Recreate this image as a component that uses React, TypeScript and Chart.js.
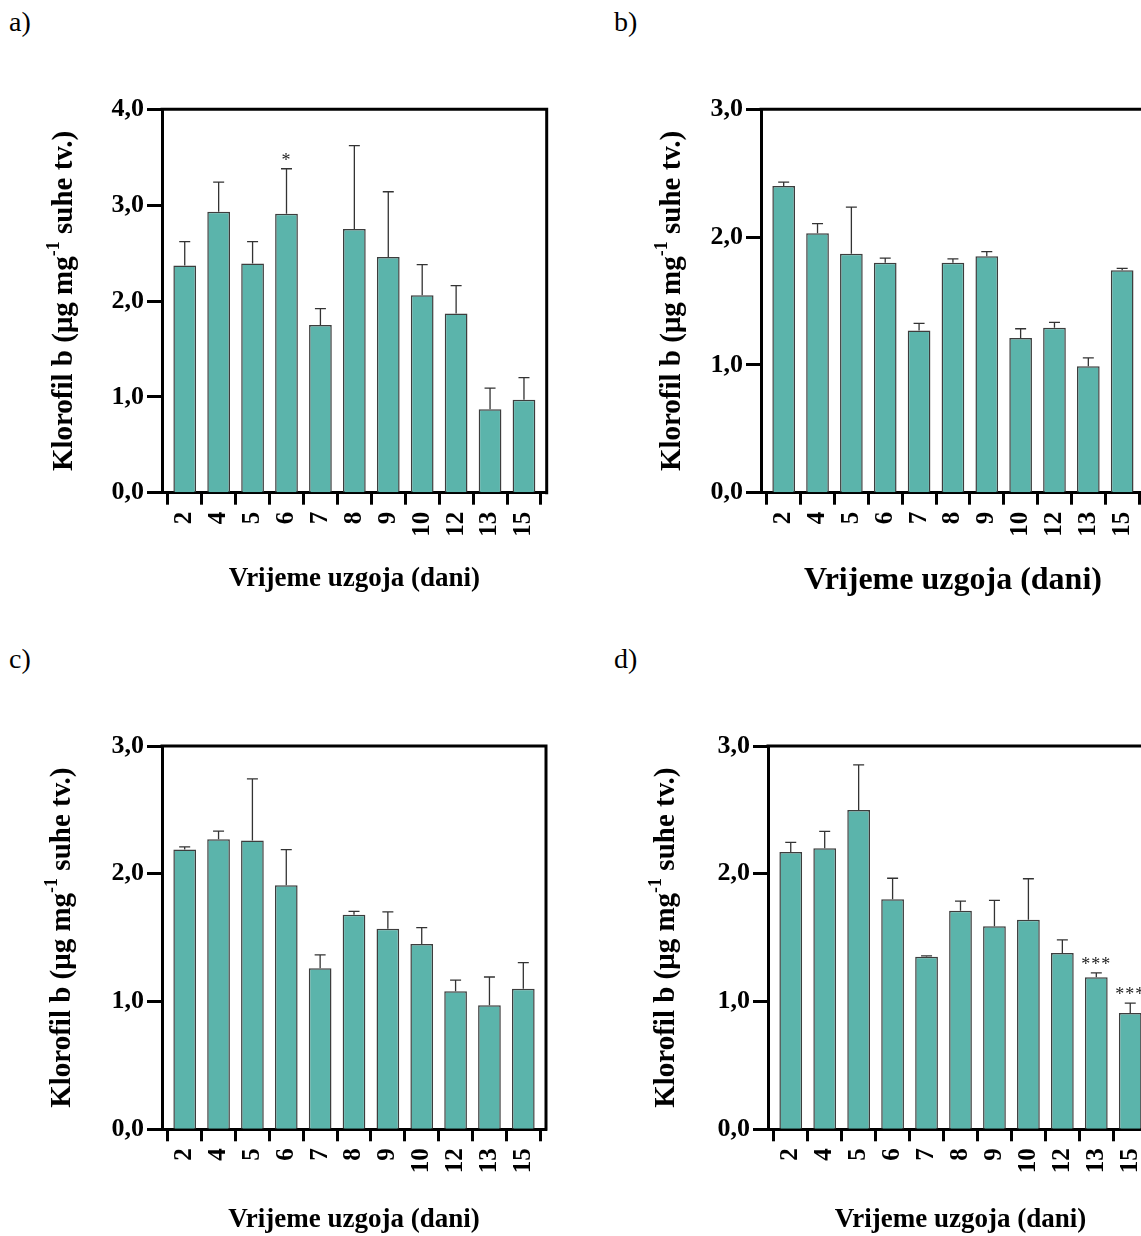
import React, { useEffect, useRef } from 'react';
import { Chart, registerables } from 'chart.js';

Chart.register(...registerables);

// ---------- data ----------
const days = ['2', '4', '5', '6', '7', '8', '9', '10', '12', '13', '15'];

const valuesA = [2.37, 2.93, 2.39, 2.91, 1.75, 2.75, 2.46, 2.06, 1.87, 0.87, 0.97];
const sdA = [0.25, 0.31, 0.23, 0.47, 0.17, 0.87, 0.68, 0.32, 0.29, 0.22, 0.23];
const starsA = ['', '', '', '*', '', '', '', '', '', '', ''];

const valuesB = [2.40, 2.03, 1.87, 1.80, 1.27, 1.80, 1.85, 1.21, 1.29, 0.99, 1.74];
const sdB = [0.03, 0.075, 0.365, 0.035, 0.055, 0.03, 0.036, 0.073, 0.042, 0.065, 0.016];
const starsB = ['', '', '', '', '', '', '', '', '', '', ''];

const valuesC = [2.19, 2.27, 2.26, 1.91, 1.26, 1.68, 1.57, 1.45, 1.08, 0.97, 1.10];
const sdC = [0.02, 0.063, 0.483, 0.279, 0.105, 0.026, 0.131, 0.128, 0.087, 0.222, 0.204];
const starsC = ['', '', '', '', '', '', '', '', '', '', ''];

const valuesD = [2.17, 2.20, 2.50, 1.80, 1.35, 1.71, 1.59, 1.64, 1.38, 1.19, 0.91];
const sdD = [0.076, 0.132, 0.352, 0.165, 0.008, 0.076, 0.201, 0.321, 0.102, 0.034, 0.078];
const starsD = ['', '', '', '', '', '', '', '', '', '***', '***'];

const yMaxA = 4;
const yMaxBCD = 3;

const xTitle = 'Vrijeme uzgoja (dani)';
const yTitleMain = 'Klorofil b (μg mg';
const yTitleSup = '-1';
const yTitleEnd = ' suhe tv.)';

// ---------- style / layout ----------
const FONT = '"Liberation Serif", "Times New Roman", serif';
const BAR_FILL = '#5BB4AB';
const BAR_BORDER = '#3d3d3d';

type Panel = {
  label: string;
  labelPos: { left: number; top: number };
  values: number[];
  sd: number[];
  stars: string[];
  yMax: number;
  canvas: { left: number; top: number; w: number; h: number };
  area: { left: number; top: number; right: number; bottom: number };
  xTitleY: number;
  xTitleSize: number;
  yTitleX: number;
};

const panels: Panel[] = [
  {
    label: 'a)', labelPos: { left: 9, top: 8 },
    values: valuesA, sd: sdA, stars: starsA, yMax: yMaxA,
    canvas: { left: 0, top: 80, w: 600, h: 530 },
    area: { left: 162, top: 109.3, right: 546.7, bottom: 492.7 },
    xTitleY: 579, xTitleSize: 27, yTitleX: 65,
  },
  {
    label: 'b)', labelPos: { left: 614, top: 8 },
    values: valuesB, sd: sdB, stars: starsB, yMax: yMaxBCD,
    canvas: { left: 600, top: 80, w: 560, h: 530 },
    area: { left: 761, top: 109.3, right: 1146, bottom: 492.7 },
    xTitleY: 581, xTitleSize: 32, yTitleX: 673,
  },
  {
    label: 'c)', labelPos: { left: 9, top: 645 },
    values: valuesC, sd: sdC, stars: starsC, yMax: yMaxBCD,
    canvas: { left: 0, top: 716, w: 600, h: 520 },
    area: { left: 162, top: 746, right: 546, bottom: 1129.3 },
    xTitleY: 1222, xTitleSize: 27, yTitleX: 63,
  },
  {
    label: 'd)', labelPos: { left: 614, top: 645 },
    values: valuesD, sd: sdD, stars: starsD, yMax: yMaxBCD,
    canvas: { left: 600, top: 716, w: 570, h: 520 },
    area: { left: 768, top: 746, right: 1153, bottom: 1129.3 },
    xTitleY: 1222, xTitleSize: 27, yTitleX: 667,
  },
];

function makeChart(canvas: HTMLCanvasElement, p: Panel) {
  const padTop = p.area.top - p.canvas.top;
  const padRight = p.canvas.left + p.canvas.w - p.area.right;
  const yW = p.area.left - p.canvas.left;
  const xH = p.canvas.top + p.canvas.h - p.area.bottom;
  const lh = p.xTitleSize * 1.2;
  const xTitlePadBottom = Math.max(0, p.canvas.top + p.canvas.h - p.xTitleY - lh / 2);

  const decor = {
    id: 'decor',
    afterDatasetsDraw(chart: any) {
      const { ctx, chartArea, scales } = chart;
      const xs = scales.x;
      const ys = scales.y;
      ctx.save();
      ctx.strokeStyle = '#333';
      ctx.lineWidth = 1.3;
      p.values.forEach((v, i) => {
        const px = xs.getPixelForValue(i);
        const base = ys.getPixelForValue(v);
        const top = ys.getPixelForValue(v + p.sd[i]);
        ctx.beginPath();
        ctx.moveTo(px, base);
        ctx.lineTo(px, top);
        ctx.moveTo(px - 5.5, top);
        ctx.lineTo(px + 5.5, top);
        ctx.stroke();
        if (p.stars[i]) {
          ctx.fillStyle = '#222';
          ctx.font = `18px ${FONT}`;
          ctx.letterSpacing = '1px';
          ctx.textAlign = 'center';
          ctx.textBaseline = 'alphabetic';
          ctx.fillText(p.stars[i], px, top - 3);
          ctx.letterSpacing = '0px';
        }
      });
      // frame top + right
      ctx.strokeStyle = '#000';
      ctx.lineWidth = 3;
      ctx.lineCap = 'square';
      ctx.beginPath();
      ctx.moveTo(chartArea.left, chartArea.top);
      ctx.lineTo(chartArea.right, chartArea.top);
      ctx.lineTo(chartArea.right, chartArea.bottom);
      ctx.stroke();
      ctx.restore();
    },
    afterDraw(chart: any) {
      const { ctx, chartArea } = chart;
      const F = 29;
      const cx = p.yTitleX - p.canvas.left;
      const cy = (chartArea.top + chartArea.bottom) / 2;
      const mainFont = `bold ${F}px ${FONT}`;
      const supFont = `bold ${Math.round(F * 0.62)}px ${FONT}`;
      const parts: [string, string, number][] = [
        [yTitleMain, mainFont, 0],
        [yTitleSup, supFont, -F * 0.38],
        [yTitleEnd, mainFont, 0],
      ];
      ctx.save();
      ctx.translate(cx, cy);
      ctx.rotate(-Math.PI / 2);
      ctx.fillStyle = '#000';
      ctx.textBaseline = 'middle';
      ctx.textAlign = 'left';
      let total = 0;
      const widths = parts.map(([t, f]) => {
        ctx.font = f;
        const w = ctx.measureText(t).width;
        total += w;
        return w;
      });
      let x = -total / 2;
      parts.forEach(([t, f, dy], i) => {
        ctx.font = f;
        ctx.fillText(t, x, dy);
        x += widths[i];
      });
      ctx.restore();
    },
  };

  return new Chart(canvas, {
    type: 'bar',
    data: {
      datasets: [
        {
          data: p.values.map((v, i) => ({ x: i, y: v })),
          backgroundColor: BAR_FILL,
          borderColor: BAR_BORDER,
          borderWidth: 1.5,
          barPercentage: 0.67,
          categoryPercentage: 1,
        },
      ],
    },
    options: {
      responsive: false,
      devicePixelRatio: 1,
      animation: false,
      events: [],
      layout: { padding: { top: padTop, right: padRight, left: 0, bottom: 0 } },
      plugins: { legend: { display: false }, tooltip: { enabled: false } },
      scales: {
        x: {
          type: 'linear',
          min: -0.67,
          max: days.length - 1 + 0.67,
          offset: false,
          afterFit: (s: any) => { s.height = xH; },
          grid: { drawOnChartArea: false, drawTicks: true, tickLength: 12, tickWidth: 3, tickColor: '#000' },
          border: { display: true, width: 3, color: '#000' },
          ticks: {
            stepSize: 1,
            autoSkip: false,
            includeBounds: false,
            maxRotation: 90,
            minRotation: 90,
            padding: 7,
            color: '#000',
            font: { family: FONT, size: 25, weight: 'bold' },
            callback: (v: any) => (Number.isInteger(v) && days[v] !== undefined ? days[v] : ''),
          },
          title: {
            display: true,
            text: xTitle,
            color: '#000',
            font: { family: FONT, size: p.xTitleSize, weight: 'bold' },
            padding: { top: 0, bottom: xTitlePadBottom },
          },
        },
        y: {
          type: 'linear',
          min: 0,
          max: p.yMax,
          afterFit: (s: any) => { s.width = yW; },
          grid: { drawOnChartArea: false, drawTicks: true, tickLength: 15, tickWidth: 3, tickColor: '#000' },
          border: { display: true, width: 3, color: '#000' },
          ticks: {
            stepSize: 1,
            padding: 3,
            color: '#000',
            font: { family: FONT, size: 26, weight: 'bold' },
            callback: (v: any) => Number(v).toFixed(1).replace('.', ','),
          },
        },
      },
    } as any,
    plugins: [decor as any],
  });
}

function PanelChart({ p }: { p: Panel }) {
  const ref = useRef<HTMLCanvasElement>(null);
  useEffect(() => {
    if (!ref.current) return;
    const chart = makeChart(ref.current, p);
    return () => chart.destroy();
  }, [p]);
  return (
    <canvas
      ref={ref}
      width={p.canvas.w}
      height={p.canvas.h}
      style={{ position: 'absolute', left: p.canvas.left, top: p.canvas.top, width: p.canvas.w, height: p.canvas.h }}
    />
  );
}

export default function App() {
  return (
    <div style={{ position: 'absolute', left: 0, top: 0, width: 1141, height: 1236, overflow: 'hidden', background: '#fff' }}>
      {panels.map((p) => (
        <div
          key={p.label + 'l'}
          style={{ position: 'absolute', left: p.labelPos.left, top: p.labelPos.top, fontFamily: FONT, fontSize: 28, lineHeight: 1, color: '#000' }}
        >
          {p.label}
        </div>
      ))}
      {panels.map((p) => (
        <PanelChart key={p.label} p={p} />
      ))}
    </div>
  );
}
